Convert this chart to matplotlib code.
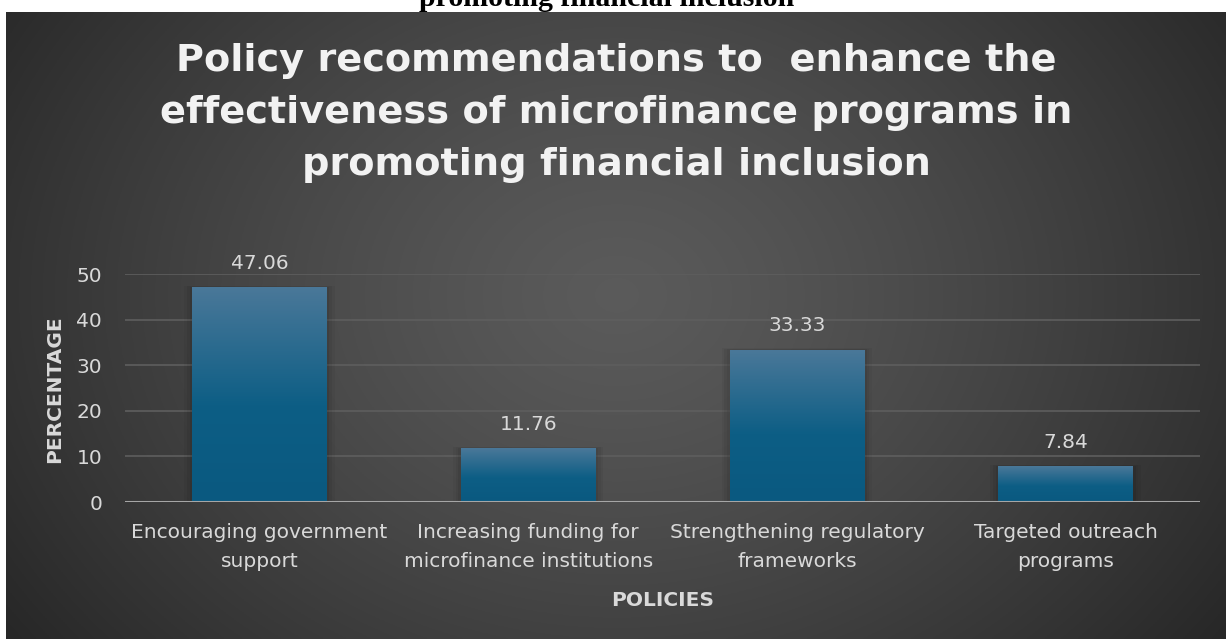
import numpy as np
import matplotlib
matplotlib.use("Agg")
import matplotlib.pyplot as plt
from matplotlib.colors import LinearSegmentedColormap

categories = ["Encouraging government\nsupport",
              "Increasing funding for\nmicrofinance institutions",
              "Strengthening regulatory\nframeworks",
              "Targeted outreach\nprograms"]
values = [47.06, 11.76, 33.33, 7.84]
yticks = [0, 10, 20, 30, 40, 50]
title = "Policy recommendations to  enhance the\neffectiveness of microfinance programs in\npromoting financial inclusion"

W, H = 1226, 639
fig = plt.figure(figsize=(W / 100, H / 100), dpi=100)
fig.patch.set_facecolor("white")

# cut-off caption at top (only its lower part is visible in the reference)
fig.text(0.495, 1 + 2 / H, "promoting financial inclusion", ha="center", va="center",
         fontsize=21.5, fontweight="bold", family="Liberation Serif", color="black")

# dark panel with radial gradient
bg = fig.add_axes([6 / W, 0, 1 - 6 / W, 1 - 12 / H], zorder=0)
bg.set_axis_off()
ny, nx = 300, 600
yy, xx = np.mgrid[0:ny, 0:nx]
cx, cy = nx * 0.5, ny * 0.45
r = np.sqrt(((xx - cx) / (nx * 0.62)) ** 2 + ((yy - cy) / (ny * 0.95)) ** 2)
r = np.clip(r, 0, 1)
light, dark = 0.355, 0.15
img = light - (light - dark) * r ** 1.3
bg.imshow(np.dstack([img, img, img]), aspect="auto", extent=[0, 1, 0, 1], origin="upper")
bg.set_xlim(0, 1); bg.set_ylim(0, 1)

fig.text(0.503, 1 - 113 / H, title, ha="center", va="center", fontsize=27.5,
         fontweight="bold", color="#f2f2f2", linespacing=1.58, family="DejaVu Sans")

# plot axes: x from 125 to 1200, y0 at 502, y50 at 274
x0, x1 = 125, 1200
yb, yt = 502, 274
ax = fig.add_axes([x0 / W, 1 - yb / H, (x1 - x0) / W, (yb - yt) / H], zorder=1)
ax.patch.set_alpha(0)
ax.set_xlim(-0.5, len(categories) - 0.5)
ax.set_ylim(0, 50)
for s in ax.spines.values():
    s.set_visible(False)
ax.set_yticks(yticks)
ax.yaxis.grid(True, color="#5e5e5e", linewidth=1.2)
ax.set_axisbelow(True)
ax.axhline(0, color="#a6a6a6", linewidth=2.2, zorder=4)
ax.tick_params(axis="both", length=0, colors="#d9d9d9", labelsize=14.5)
ax.tick_params(axis="x", pad=15)
ax.tick_params(axis="y", pad=16.5)
ax.set_xticks(range(len(categories)))
ax.set_xticklabels(categories, linespacing=1.65)

cmap = LinearSegmentedColormap.from_list("bar", [(0, "#0a5980"), (0.45, "#0d5e85"), (1.0, "#4a7899")])
bw = 0.5
bars = ax.bar(range(len(values)), values, width=bw, color="none", zorder=3)
for b, v in zip(bars, values):
    x = b.get_x()
    # soft shadow
    for k, a in enumerate([0.06, 0.05, 0.04]):
        d = 0.01 * (k + 1)
        ax.add_patch(plt.Rectangle((x - d, 0), bw + 2 * d, v + d * 12, color="black",
                                   alpha=a, zorder=2, linewidth=0))
    grad = np.linspace(0, 1, 256).reshape(-1, 1)
    im = ax.imshow(grad, extent=[x, x + bw, 0, v], origin="lower", aspect="auto", cmap=cmap, zorder=3)
    im.set_clip_path(b)
    ax.text(x + bw / 2, v + 3.2, f"{v:.2f}", ha="center", va="bottom", color="#d9d9d9",
            fontsize=14.5, zorder=5)
ax.set_xlim(-0.5, len(categories) - 0.5)
ax.set_ylim(0, 50)

ax.set_ylabel("PERCENTAGE", color="#d9d9d9", fontsize=14.5, fontweight="bold", va="center")
ax.set_xlabel("POLICIES", color="#d9d9d9", fontsize=14.5, fontweight="bold", va="center")
ax.yaxis.set_label_coords((55 - x0) / (x1 - x0), (yb - 389) / (yb - yt))
ax.xaxis.set_label_coords(0.5, (yb - 600) / (yb - yt))

fig.savefig("out.png", dpi=100, facecolor=fig.get_facecolor())
